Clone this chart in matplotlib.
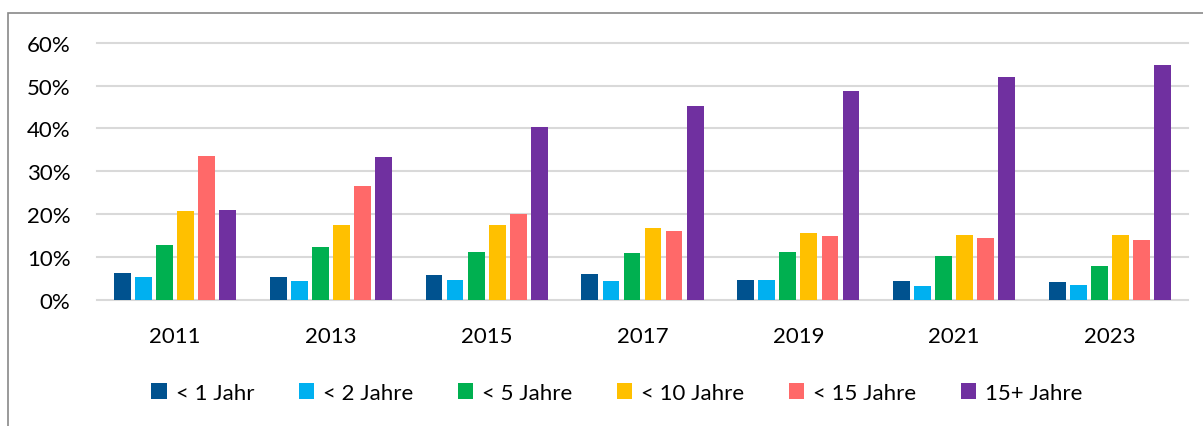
import matplotlib.pyplot as plt
from matplotlib.patches import Patch, Rectangle

years = ["2011", "2013", "2015", "2017", "2019", "2021", "2023"]
series_names = ["< 1 Jahr", "< 2 Jahre", "< 5 Jahre", "< 10 Jahre", "< 15 Jahre", "15+ Jahre"]
lt1 = [6.3, 5.4, 5.8, 6.1, 4.7, 4.4, 4.2]
lt2 = [5.3, 4.5, 4.7, 4.4, 4.6, 3.3, 3.5]
lt5 = [12.8, 12.3, 11.3, 10.9, 11.1, 10.3, 7.9]
lt10 = [20.7, 17.6, 17.4, 16.9, 15.7, 15.1, 15.2]
lt15 = [33.6, 26.5, 20.0, 16.1, 14.9, 14.5, 14.1]
ge15 = [21.1, 33.3, 40.4, 45.3, 48.7, 52.1, 54.9]
colors = ["#00528f", "#00b0f0", "#00b050", "#ffc000", "#ff6969", "#7030a0"]

plt.rcParams["font.family"] = ["Lato", "DejaVu Sans"]

fig = plt.figure(figsize=(12.03, 4.27), dpi=100)
ax = fig.add_axes([97 / 1203, 1 - 301 / 427, 1091 / 1203, 257.3 / 427])

pitch = 0.135
width = 0.108
for i, (vals, col) in enumerate(zip([lt1, lt2, lt5, lt10, lt15, ge15], colors)):
    xs = [g + (i - 2.5) * pitch for g in range(len(years))]
    ax.bar(xs, vals, width=width, color=col, zorder=3)

ax.set_xlim(-0.5, len(years) - 0.5)
ax.set_ylim(0, 60)
ax.set_yticks(range(0, 61, 10))
ax.set_yticklabels([f"{v}%" for v in range(0, 61, 10)])
ax.set_xticks(range(len(years)))
ax.set_xticklabels(years)
ax.tick_params(axis="both", length=0, labelsize=16, colors="#000000")
ax.tick_params(axis="x", pad=19)
ax.tick_params(axis="y", pad=19)
ax.grid(axis="y", color="#d9d9d9", linewidth=1.5, zorder=0, clip_on=False)
for s in ax.spines.values():
    s.set_visible(False)

# outer chart frame
fig.patches.append(Rectangle((8 / 1203, -0.1), 1.2, 1.1 - 14 / 427, transform=fig.transFigure,
                             fill=False, edgecolor="#898989", linewidth=1.2))

handles = [Patch(facecolor=c, label=n) for c, n in zip(colors, series_names)]
fig.legend(handles=handles, loc="center", bbox_to_anchor=(617 / 1203, 1 - 394 / 427), ncol=6,
           frameon=False, fontsize=16, handlelength=0.7, handleheight=0.7,
           handletextpad=0.4, columnspacing=2.0)

fig.savefig("out.png", dpi=100)
